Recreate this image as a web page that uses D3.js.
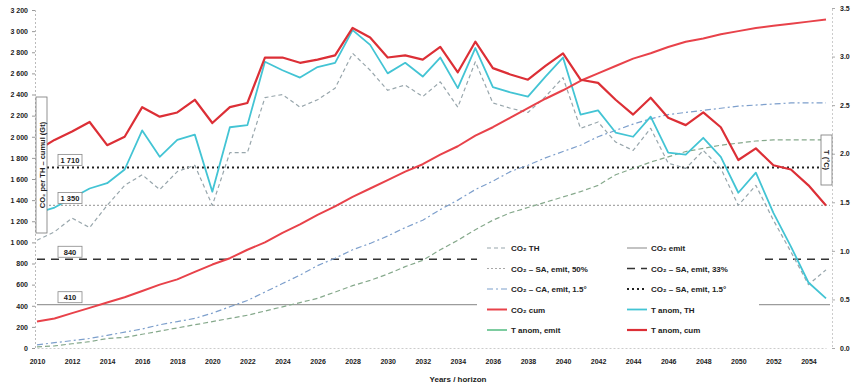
<!DOCTYPE html>
<html>
<head>
<meta charset="utf-8">
<script src="https://cdn.jsdelivr.net/npm/d3@7"></script>
<style>
  body { margin: 0; background: #fff; }
  text { font-family: "Liberation Sans", Arial, sans-serif; }
</style>
</head>
<body>
<div id="wrapper"></div>
<script>
// Data
const years = [2010, 2011, 2012, 2013, 2014, 2015, 2016, 2017, 2018, 2019,
  2020, 2021, 2022, 2023, 2024, 2025, 2026, 2027, 2028, 2029,
  2030, 2031, 2032, 2033, 2034, 2035, 2036, 2037, 2038, 2039,
  2040, 2041, 2042, 2043, 2044, 2045, 2046, 2047, 2048, 2049,
  2050, 2051, 2052, 2053, 2054, 2055]
const leftTicks = [0, 200, 400, 600, 800, 1000, 1200, 1400, 1600, 1800, 2000, 2200, 2400, 2600, 2800, 3000, 3200]
const rightTicks = [0, 0.5, 1, 1.5, 2, 2.5, 3, 3.5]

const tAnomCum = [1870, 1970, 2050, 2140, 1920, 2000, 2280, 2190, 2230, 2350, 2130, 2280, 2320, 2750, 2750, 2700,
  2730, 2770, 3030, 2940, 2750, 2770, 2730, 2850, 2610, 2900, 2650, 2590, 2540, 2670, 2790, 2540,
  2510, 2350, 2210, 2370, 2180, 2110, 2230, 2090, 1780, 1890, 1730, 1690, 1540, 1350]
const tAnomTH = [1280, 1330, 1420, 1510, 1560, 1690, 2060, 1810, 1970, 2020, 1480, 2090, 2110, 2710, 2630, 2560,
  2660, 2700, 3010, 2870, 2600, 2700, 2570, 2750, 2460, 2840, 2470, 2420, 2380, 2570, 2750, 2210,
  2250, 2040, 2000, 2190, 1850, 1830, 1990, 1810, 1470, 1660, 1280, 960, 620, 470]
const co2TH = [1020, 1100, 1230, 1140, 1350, 1540, 1640, 1500, 1670, 1730, 1350, 1850, 1850, 2370, 2400, 2280,
  2350, 2460, 2790, 2630, 2440, 2490, 2380, 2520, 2280, 2710, 2320, 2270, 2230, 2380, 2560, 2080,
  2140, 1950, 1870, 2080, 1750, 1700, 1870, 1700, 1350, 1540, 1210, 910, 600, 740]
const co2Cum = [250, 280, 330, 380, 430, 480, 540, 600, 650, 720, 790, 850, 930, 1000, 1090, 1170,
  1260, 1340, 1430, 1510, 1590, 1670, 1740, 1830, 1910, 2010, 2090, 2180, 2270, 2360, 2440, 2530,
  2600, 2670, 2740, 2790, 2850, 2900, 2930, 2970, 3000, 3030, 3050, 3070, 3090, 3110]
const co2CaEmit = [30, 50, 70, 90, 120, 150, 180, 220, 250, 280, 330, 390, 450, 530, 610, 690,
  780, 850, 930, 990, 1060, 1140, 1210, 1310, 1400, 1500, 1580, 1670, 1730, 1800, 1860, 1920,
  2000, 2060, 2120, 2170, 2210, 2230, 2250, 2270, 2290, 2300, 2310, 2320, 2320, 2320]
const tAnomEmit = [10, 20, 40, 60, 90, 100, 130, 160, 190, 220, 250, 280, 310, 350, 390, 430,
  470, 530, 590, 640, 700, 770, 830, 930, 1020, 1120, 1210, 1280, 1330, 1380, 1430, 1480,
  1540, 1640, 1700, 1760, 1810, 1860, 1890, 1920, 1940, 1960, 1970, 1970, 1970, 1970]

const refValues = [1710, 1350, 840, 410]
const refLabels = ['1 710', '1 350', '840', '410']

const legendNames = ['CO₂ TH', 'CO₂ emit', 'CO₂ – SA, emit, 50%', 'CO₂ – SA, emit, 33%',
  'CO₂ – CA, emit, 1.5°', 'CO₂ – SA, emit, 1.5°', 'CO₂ cum', 'T anom, TH', 'T anom, emit', 'T anom, cum']

// Styles
const styles = {
  tAnomCum: { stroke: '#dc2f36', width: 2.2, dash: null },
  tAnomTH: { stroke: '#43c4d4', width: 1.8, dash: null },
  co2TH: { stroke: '#98a6ac', width: 1.2, dash: '4,3' },
  co2Cum: { stroke: '#e8424a', width: 2, dash: null },
  co2CaEmit: { stroke: '#7d9fcc', width: 1.2, dash: '6,3,2,3' },
  tAnomEmit: { stroke: '#86a98c', width: 1.2, dash: '5,3' },
}
const refStyles = [
  { stroke: '#222', width: 2, dash: '2,3' },
  { stroke: '#a8a8a8', width: 1.2, dash: '2,2' },
  { stroke: '#333', width: 1.6, dash: '8,6' },
  { stroke: '#9c9c9c', width: 1.2, dash: null },
]
const legendStyles = [styles.co2TH, refStyles[3], refStyles[1], refStyles[2], styles.co2CaEmit,
  refStyles[0], styles.co2Cum, styles.tAnomTH, { stroke: '#5cbf88', width: 1.6, dash: null }, styles.tAnomCum]

// Dimensions
const width = 856
const height = 387
const plot = { left: 37, right: 826, top: 10, bottom: 348 }

const svg = d3.select('#wrapper').append('svg')
  .attr('width', width).attr('height', height)

// Scales
const x = d3.scalePoint().domain(years).range([plot.left, plot.right])
const yLeft = d3.scaleLinear().domain([0, 3200]).range([plot.bottom, plot.top])
const yRight = d3.scaleLinear().domain([0, 3.5]).range([plot.bottom, 8])

const applyStyle = (sel, s) => sel
  .attr('fill', 'none')
  .attr('stroke', s.stroke)
  .attr('stroke-width', s.width)
  .attr('stroke-dasharray', s.dash)

// Axes
const fmt = d => d3.format(',')(d).replace(',', ' ')
const leftAxis = svg.append('g')
  .attr('transform', `translate(35,0)`)
  .call(d3.axisLeft(yLeft).tickValues(leftTicks).tickSize(3).tickPadding(4).tickFormat(fmt))
leftAxis.select('.domain').attr('stroke', '#bbb').attr('stroke-dasharray', '2,2')
leftAxis.selectAll('.tick line').attr('stroke', '#999')
leftAxis.selectAll('text').attr('font-size', 7).attr('font-weight', 'bold').attr('fill', '#222')

const rightAxis = svg.append('g')
  .attr('transform', `translate(832,0)`)
  .call(d3.axisRight(yRight).tickValues(rightTicks).tickSize(3).tickPadding(5).tickFormat(d3.format('.1f')))
rightAxis.select('.domain').attr('stroke', '#ccc').attr('stroke-dasharray', '2,2')
rightAxis.selectAll('.tick line').attr('stroke', '#aaa')
rightAxis.selectAll('text').attr('font-size', 7).attr('font-weight', 'bold').attr('fill', '#222')

const bottomAxis = svg.append('g')
  .attr('transform', `translate(0,${plot.bottom})`)
  .call(d3.axisBottom(x).tickValues(years.filter((d, i) => i % 2 === 0)).tickSize(0).tickPadding(11))
bottomAxis.select('.domain').attr('stroke', '#ccc').attr('stroke-dasharray', '2,2')
bottomAxis.selectAll('text').attr('font-size', 7).attr('font-weight', 'bold').attr('fill', '#222')

svg.append('text')
  .attr('x', 458).attr('y', 382)
  .attr('text-anchor', 'middle')
  .attr('font-size', 8).attr('font-weight', 'bold').attr('fill', '#222')
  .text('Years / horizon')

// Reference lines
refValues.forEach((v, i) => {
  svg.append('line')
    .attr('x1', plot.left).attr('x2', 830)
    .attr('y1', yLeft(v)).attr('y2', yLeft(v))
    .call(applyStyle, refStyles[i])
})

// Series
const line = d3.line().x((d, i) => x(years[i])).y(d => yLeft(d))
const series = [
  ['tAnomEmit', tAnomEmit],
  ['co2CaEmit', co2CaEmit],
  ['co2TH', co2TH],
  ['tAnomTH', tAnomTH],
  ['co2Cum', co2Cum],
  ['tAnomCum', tAnomCum],
]
series.forEach(([key, values]) => {
  svg.append('path')
    .attr('d', line(values))
    .attr('stroke-linejoin', 'round')
    .call(applyStyle, styles[key])
})

// Reference labels
refValues.forEach((v, i) => {
  const g = svg.append('g').attr('transform', `translate(58,${yLeft(v) - 13})`)
  g.append('rect').attr('width', 24).attr('height', 11)
    .attr('fill', '#fff').attr('stroke', '#888').attr('stroke-width', 0.8)
  g.append('text').attr('x', 12).attr('y', 8.5)
    .attr('text-anchor', 'middle')
    .attr('font-size', 7.5).attr('font-weight', 'bold').attr('fill', '#222')
    .text(refLabels[i])
})

// Axis titles in boxes
const leftTitle = svg.append('g')
leftTitle.append('rect').attr('x', 36).attr('y', 97).attr('width', 11).attr('height', 136)
  .attr('fill', '#fff').attr('stroke', '#777').attr('stroke-width', 0.8)
leftTitle.append('text')
  .attr('transform', 'translate(44.5,165) rotate(-90)')
  .attr('text-anchor', 'middle')
  .attr('font-size', 7.5).attr('font-weight', 'bold').attr('fill', '#222')
  .text('CO₂ per TH – cumul (Gt)')

const rightTitle = svg.append('g')
rightTitle.append('rect').attr('x', 821).attr('y', 135).attr('width', 11).attr('height', 50)
  .attr('fill', '#fff').attr('stroke', '#777').attr('stroke-width', 0.8)
rightTitle.append('text')
  .attr('transform', 'translate(823.5,160) rotate(90)')
  .attr('text-anchor', 'middle')
  .attr('font-size', 7.5).attr('font-weight', 'bold').attr('fill', '#222')
  .text('T (°C)')

// Legend
const legend = svg.append('g')
legend.append('rect').attr('x', 477).attr('y', 238).attr('width', 282).attr('height', 102)
  .attr('fill', '#fff')
legendNames.forEach((name, i) => {
  const col = i % 2
  const row = Math.floor(i / 2)
  const gx = col === 0 ? 487 : 627
  const gy = 248 + row * 20.5
  legend.append('line')
    .attr('x1', gx).attr('x2', gx + 20).attr('y1', gy).attr('y2', gy)
    .call(applyStyle, legendStyles[i])
  legend.append('text')
    .attr('x', gx + 24).attr('y', gy + 3)
    .attr('font-size', 8).attr('font-weight', 'bold').attr('fill', '#222')
    .text(name)
})
</script>
</body>
</html>
